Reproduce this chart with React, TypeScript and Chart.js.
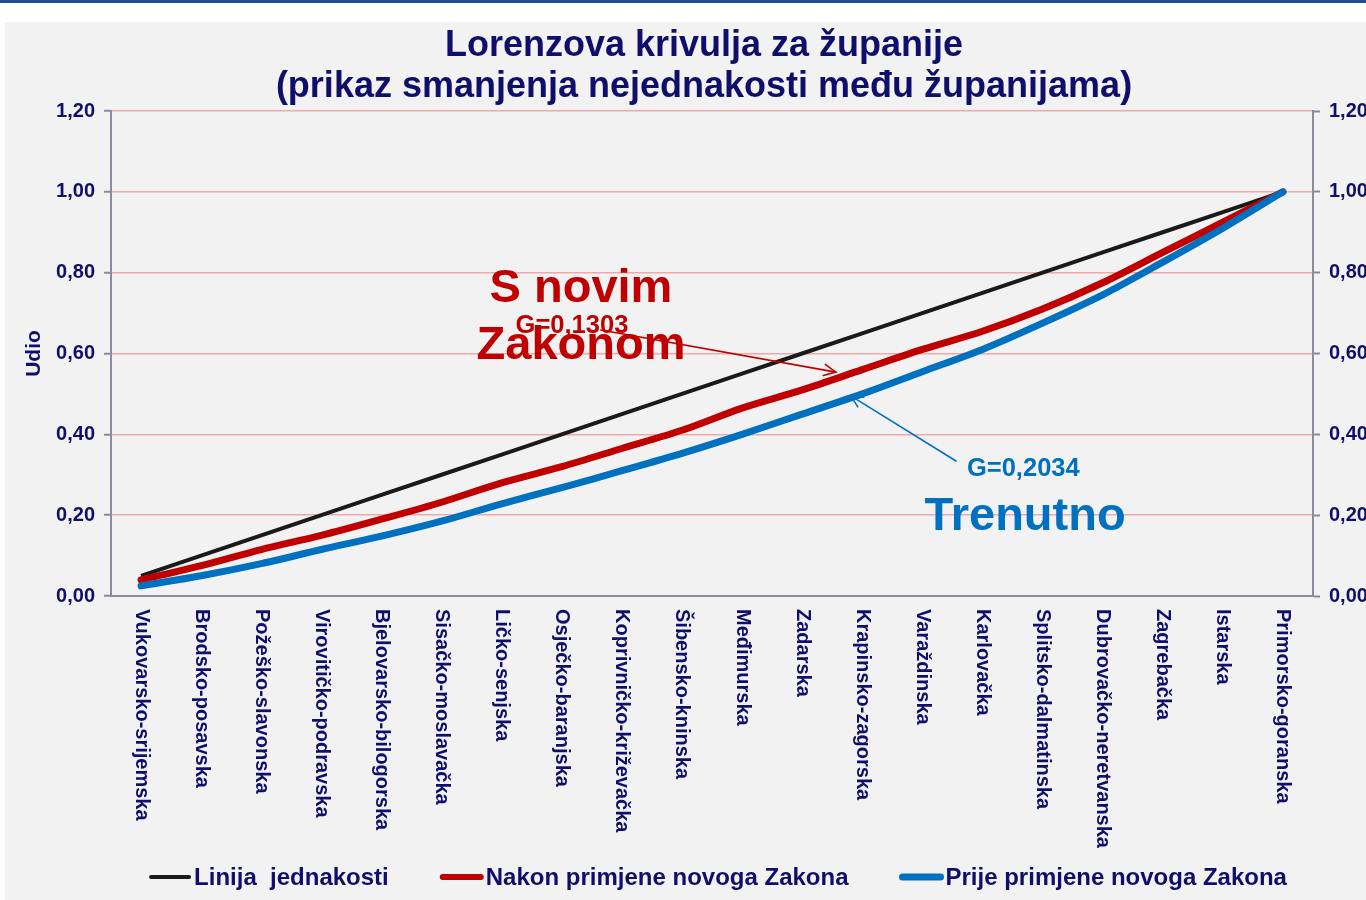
import React, { useEffect, useRef } from "react";
import { Chart, registerables } from "chart.js";

Chart.register(...registerables);

const counties = [
  "Vukovarsko-srijemska",
  "Brodsko-posavska",
  "Požeško-slavonska",
  "Virovitičko-podravska",
  "Bjelovarsko-bilogorska",
  "Sisačko-moslavačka",
  "Ličko-senjska",
  "Osječko-baranjska",
  "Koprivničko-križevačka",
  "Šibensko-kninska",
  "Međimurska",
  "Zadarska",
  "Krapinsko-zagorska",
  "Varaždinska",
  "Karlovačka",
  "Splitsko-dalmatinska",
  "Dubrovačko-neretvanska",
  "Zagrebačka",
  "Istarska",
  "Primorsko-goranska",
];

const equalityLine = [
  0.05, 0.1, 0.15, 0.2, 0.25, 0.3, 0.35, 0.4, 0.45, 0.5, 0.55, 0.6, 0.65, 0.7,
  0.75, 0.8, 0.85, 0.9, 0.95, 1.0,
];
const afterNewLaw = [
  0.04, 0.075, 0.115, 0.15, 0.19, 0.232, 0.28, 0.32, 0.365, 0.41, 0.465, 0.51,
  0.56, 0.61, 0.655, 0.71, 0.775, 0.85, 0.925, 1.0,
];
const beforeNewLaw = [
  0.025, 0.05, 0.08, 0.115, 0.148, 0.185, 0.228, 0.268, 0.31, 0.353, 0.4, 0.45,
  0.5, 0.555, 0.61, 0.675, 0.745, 0.826, 0.91, 1.0,
];
const yTickValues = [0, 0.2, 0.4, 0.6, 0.8, 1.0, 1.2];

const seriesNames = [
  "Linija  jednakosti",
  "Nakon primjene novoga Zakona",
  "Prije primjene novoga Zakona",
];
const titleLines = [
  "Lorenzova krivulja za županije",
  "(prikaz smanjenja nejednakosti među županijama)",
];
const yAxisTitle = "Udio";
const giniNew = "G=0,1303";
const giniOld = "G=0,2034";
const labelNew = ["S novim", "Zakonom"];
const labelOld = "Trenutno";

const NAVY = "#0f0f6b";
const BLACK = "#1a1a1a";
const RED = "#c00000";
const BLUE = "#0070c0";
const AXIS = "#8a8aa0";
const GRID = "#eeaaaa";
const FONT = "Arial, 'Liberation Sans', sans-serif";

const fmt = (v: number) => v.toFixed(2).replace(".", ",");

function arrow(
  ctx: CanvasRenderingContext2D,
  x1: number,
  y1: number,
  x2: number,
  y2: number,
  color: string
) {
  ctx.save();
  ctx.strokeStyle = color;
  ctx.lineWidth = 1.6;
  ctx.beginPath();
  ctx.moveTo(x1, y1);
  ctx.lineTo(x2, y2);
  ctx.stroke();
  const a = Math.atan2(y2 - y1, x2 - x1);
  const L = 13;
  const w = 0.45;
  ctx.beginPath();
  ctx.moveTo(x2 - L * Math.cos(a - w), y2 - L * Math.sin(a - w));
  ctx.lineTo(x2, y2);
  ctx.lineTo(x2 - L * Math.cos(a + w), y2 - L * Math.sin(a + w));
  ctx.stroke();
  ctx.restore();
}

const decorPlugin = {
  id: "decor",
  afterDraw(chart: any) {
    const ctx: CanvasRenderingContext2D = chart.ctx;
    const xs = chart.scales.x;
    const ys = chart.scales.y;
    const px = (i: number) => xs.getPixelForValue(i);
    const py = (v: number) => ys.getPixelForValue(v);
    const area = chart.chartArea;

    ctx.save();
    // Title
    ctx.fillStyle = NAVY;
    ctx.font = `bold 36px ${FONT}`;
    ctx.textAlign = "center";
    ctx.textBaseline = "middle";
    const tcx = (area.left + area.right) / 2 - 8;
    ctx.fillText(titleLines[0], tcx, 46);
    ctx.fillText(titleLines[1], tcx, 87);

    // X category labels rotated clockwise
    ctx.font = `bold 20px ${FONT}`;
    ctx.textAlign = "left";
    ctx.textBaseline = "middle";
    counties.forEach((c, i) => {
      ctx.save();
      ctx.translate(px(i), area.bottom + 13);
      ctx.rotate(Math.PI / 2);
      ctx.fillText(c, 0, 0);
      ctx.restore();
    });

    // Legend
    const colors = [BLACK, RED, BLUE];
    const widths = [4, 6, 7];
    ctx.font = `bold 24px ${FONT}`;
    const lineLen = 38;
    const textGap = 5;
    const itemGap = 54;
    const tws = seriesNames.map((s) => ctx.measureText(s).width);
    const total =
      tws.reduce((s, w) => s + w + lineLen + textGap, 0) + itemGap * 2;
    let lx = tcx + 15 - total / 2;
    const ly = 877;
    seriesNames.forEach((s, i) => {
      ctx.strokeStyle = colors[i];
      ctx.lineWidth = widths[i];
      ctx.lineCap = "round";
      ctx.beginPath();
      ctx.moveTo(lx, ly);
      ctx.lineTo(lx + lineLen, ly);
      ctx.stroke();
      ctx.fillStyle = NAVY;
      ctx.textAlign = "left";
      ctx.textBaseline = "middle";
      ctx.fillText(s, lx + lineLen + textGap, ly + 1);
      lx += lineLen + textGap + tws[i] + itemGap;
    });

    // Annotations
    ctx.textAlign = "center";
    ctx.textBaseline = "middle";
    ctx.fillStyle = RED;
    ctx.font = `bold 47px ${FONT}`;
    ctx.fillText(labelNew[0], px(7.32), py(0.76));
    ctx.fillText(labelNew[1], px(7.32), py(0.618));
    ctx.font = `bold 25.5px ${FONT}`;
    ctx.fillText(giniNew, px(7.17), py(0.668));
    arrow(ctx, px(7.65), py(0.658), px(11.56), py(0.554), RED);

    ctx.fillStyle = BLUE;
    ctx.font = `bold 25.5px ${FONT}`;
    ctx.fillText(giniOld, px(14.68), py(0.314));
    ctx.font = `bold 47px ${FONT}`;
    ctx.fillText(labelOld, px(14.71), py(0.195));
    arrow(ctx, px(13.56), py(0.334), px(11.81), py(0.495), BLUE);
    ctx.restore();
  },
};

export default function App() {
  const ref = useRef<HTMLCanvasElement | null>(null);

  useEffect(() => {
    if (!ref.current) return;
    const tickFont = { family: FONT, size: 20, weight: "bold" as const };
    const chart = new Chart(ref.current, {
      type: "line",
      data: {
        labels: counties,
        datasets: [
          {
            label: seriesNames[0],
            data: equalityLine,
            borderColor: BLACK,
            backgroundColor: BLACK,
            borderWidth: 4,
            pointRadius: 0,
            tension: 0,
            order: 2,
          },
          {
            label: seriesNames[1],
            data: afterNewLaw,
            borderColor: RED,
            backgroundColor: RED,
            borderWidth: 7,
            pointRadius: 0,
            tension: 0.3,
            borderCapStyle: "round",
            order: 1,
          },
          {
            label: seriesNames[2],
            data: beforeNewLaw,
            borderColor: BLUE,
            backgroundColor: BLUE,
            borderWidth: 7,
            pointRadius: 0,
            tension: 0.3,
            borderCapStyle: "round",
            order: 0,
          },
        ],
      },
      options: {
        animation: false,
        responsive: false,
        maintainAspectRatio: false,
        layout: { padding: { top: 111, left: 0, right: 0, bottom: 0 } },
        plugins: {
          legend: { display: false },
          title: { display: false },
          tooltip: { enabled: false },
        },
        scales: {
          x: {
            type: "category",
            offset: true,
            grid: { display: false, drawTicks: false },
            border: { display: true, color: AXIS, width: 2 },
            ticks: { display: false },
            afterFit: (s: any) => {
              s.height = 304;
            },
          },
          y: {
            position: "left",
            min: 0,
            max: 1.2,
            afterBuildTicks: (s: any) => {
              s.ticks = yTickValues.map((v) => ({ value: v }));
            },
            ticks: {
              color: NAVY,
              font: tickFont,
              padding: 9,
              callback: (v: any) => fmt(Number(v)),
            },
            grid: {
              color: (c: any) => (c.tick && c.tick.value === 0 ? "rgba(0,0,0,0)" : GRID),
              lineWidth: 1.5,
              tickLength: 7,
              tickColor: AXIS,
              tickWidth: 2,
            },
            border: { display: true, color: AXIS, width: 2 },
            title: {
              display: true,
              text: yAxisTitle,
              color: NAVY,
              font: { family: FONT, size: 21, weight: "bold" },
              padding: { top: 22, bottom: 0 },
            },
            afterFit: (s: any) => {
              s.width = 111;
            },
          },
          y2: {
            position: "right",
            min: 0,
            max: 1.2,
            afterBuildTicks: (s: any) => {
              s.ticks = yTickValues.map((v) => ({ value: v }));
            },
            ticks: {
              color: NAVY,
              font: tickFont,
              padding: 9,
              callback: (v: any) => fmt(Number(v)),
            },
            grid: {
              drawOnChartArea: false,
              tickLength: 7,
              tickColor: AXIS,
              tickWidth: 2,
            },
            border: { display: true, color: AXIS, width: 2 },
            afterFit: (s: any) => {
              s.width = 53;
            },
          },
        },
      },
      plugins: [decorPlugin],
    });
    return () => chart.destroy();
  }, []);

  return (
    <div
      style={{
        position: "fixed",
        left: 0,
        top: 0,
        width: 1366,
        height: 900,
        background: "#ffffff",
        overflow: "hidden",
      }}
    >
      <div
        style={{
          position: "absolute",
          left: 0,
          top: 0,
          width: 1366,
          height: 3,
          background: "#1f4e8a",
        }}
      />
      <div
        style={{
          position: "absolute",
          left: 5,
          top: 22,
          width: 1361,
          height: 878,
          background: "#f2f2f2",
        }}
      />
      <canvas
        ref={ref}
        width={1366}
        height={900}
        style={{ position: "absolute", left: 0, top: 0, width: 1366, height: 900 }}
      />
    </div>
  );
}
